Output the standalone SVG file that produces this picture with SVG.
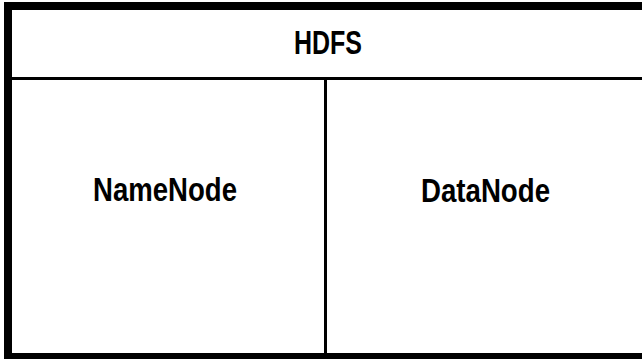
<svg xmlns="http://www.w3.org/2000/svg" width="642" height="359" viewBox="0 0 642 359">
<style>
.t{font-family:"Liberation Sans",Arial,sans-serif;font-weight:bold;font-size:33px;fill:#000;text-anchor:middle}
</style>
<rect x="0" y="0" width="642" height="359" fill="#fff"/>
<g id="connectors">
<line x1="8" y1="78.5" x2="642" y2="78.5" stroke="#000" stroke-width="3"/>
<line x1="325.5" y1="78" x2="325.5" y2="355" stroke="#000" stroke-width="3"/>
</g>
<g id="hdfs">
<rect x="8" y="6" width="640" height="351" fill="none" stroke="#000" stroke-width="8"/>
<text class="t" x="328" y="54" textLength="68" lengthAdjust="spacingAndGlyphs">HDFS</text>
</g>
<g id="namenode">
<text class="t" x="165" y="201" textLength="144" lengthAdjust="spacingAndGlyphs">NameNode</text>
</g>
<g id="datanode">
<text class="t" x="485.5" y="202" textLength="129" lengthAdjust="spacingAndGlyphs">DataNode</text>
</g>
</svg>
